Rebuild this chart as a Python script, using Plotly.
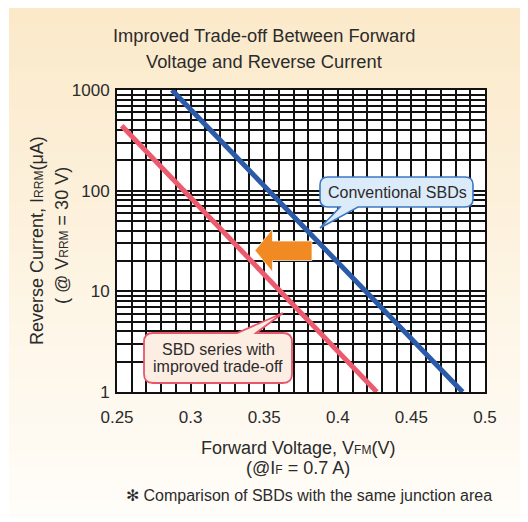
import plotly.graph_objects as go

# ---------------- data ----------------
conventional_vf = [0.2873, 0.4848]   # V
conventional_ir = [1000, 1]          # uA
improved_vf = [0.2532, 0.4265]       # V
improved_ir = [442, 1]               # uA

x_tick_labels = ["0.25", "0.3", "0.35", "0.4", "0.45", "0.5"]
y_tick_labels = ["1", "10", "100", "1000"]

# ---------------- layout geometry (screen pixels) ----------------
OFF = 8                      # page body margin
W, H = 528 - OFF, 522 - OFF  # figure size
L, R, T, B = 117, 485, 90, 392  # plot area on screen
PW, PH = R - L, B - T
FONT = "Liberation Sans, Arial, Helvetica, sans-serif"
TXT = "#2b2b2b"


def px(x):
    return (x - L) / PW


def py(y):
    return (B - y) / PH


# grid positions
x_grid = [round(0.25 + 0.01 * i, 2) for i in range(26)]
x_text = []
for v in x_grid:
    lab = ""
    for s in x_tick_labels:
        if abs(v - float(s)) < 1e-9:
            lab = s
    x_text.append(lab)

y_grid, y_text = [], []
for d, lab in zip([1, 10, 100], y_tick_labels[:3]):
    for m in range(1, 10):
        y_grid.append(d * m)
        y_text.append(lab if m == 1 else "")
y_grid.append(1000)
y_text.append(y_tick_labels[3])

fig = go.Figure()
fig.add_trace(go.Scatter(x=conventional_vf, y=conventional_ir, mode="lines",
                         line=dict(color="#2a5aa8", width=5), showlegend=False,
                         hoverinfo="skip"))
fig.add_trace(go.Scatter(x=improved_vf, y=improved_ir, mode="lines",
                         line=dict(color="#ec5a6e", width=5), showlegend=False,
                         hoverinfo="skip"))

shapes = []
# gradient panel background
top_c = (251, 233, 201)
bot_c = (255, 253, 249)
N = 60
y_start, y_end = 6, 518
for i in range(N):
    ya = y_start + (y_end - y_start) * i / N
    yb = y_start + (y_end - y_start) * (i + 1) / N + 0.6
    t = i / (N - 1)
    c = tuple(round(top_c[k] + (bot_c[k] - top_c[k]) * t) for k in range(3))
    shapes.append(dict(type="rect", xref="paper", yref="paper", layer="below",
                       x0=px(9), x1=px(521), y0=py(yb), y1=py(ya),
                       fillcolor="rgb(%d,%d,%d)" % c, line=dict(width=0)))
# right shadow
shapes.append(dict(type="rect", xref="paper", yref="paper", layer="below",
                   x0=px(521), x1=px(524), y0=py(521), y1=py(9),
                   fillcolor="#c4c4c4", line=dict(width=0)))
# white plot area
shapes.append(dict(type="rect", xref="paper", yref="paper", layer="below",
                   x0=0, x1=1, y0=0, y1=1, fillcolor="white", line=dict(width=0)))


def P(x, y):
    return "%.5f,%.5f" % (px(x), py(y))


def callout(x0, y0, x1, y1, r, side, b0, b1, tip):
    d = "M" + P(x0 + r, y0)
    if side == "top":
        d += " L" + P(b0, y0) + " L" + P(*tip) + " L" + P(b1, y0)
    d += " L" + P(x1 - r, y0) + " Q" + P(x1, y0) + " " + P(x1, y0 + r)
    d += " L" + P(x1, y1 - r) + " Q" + P(x1, y1) + " " + P(x1 - r, y1)
    if side == "bottom":
        d += " L" + P(b1, y1) + " L" + P(*tip) + " L" + P(b0, y1)
    d += " L" + P(x0 + r, y1) + " Q" + P(x0, y1) + " " + P(x0, y1 - r)
    d += " L" + P(x0, y0 + r) + " Q" + P(x0, y0) + " " + P(x0 + r, y0) + " Z"
    return d


shapes.append(dict(type="path", xref="paper", yref="paper", layer="above",
                   path=callout(320, 177, 473, 207, 8, "bottom", 340, 358, (320, 228)),
                   fillcolor="#dcebf9", line=dict(color="#3b78c4", width=1.6)))
shapes.append(dict(type="path", xref="paper", yref="paper", layer="above",
                   path=callout(144, 333, 292, 383, 9, "top", 237, 256, (283, 313)),
                   fillcolor="#fdeee4", line=dict(color="#e8566b", width=1.8)))

# orange arrow
arrow = ("M" + P(255, 250.5) + " L" + P(272.5, 229) + " L" + P(272.5, 241) +
         " L" + P(312, 241) + " L" + P(312, 260.5) + " L" + P(272.5, 260.5) +
         " L" + P(272.5, 272) + " Z")
shapes.append(dict(type="path", xref="paper", yref="paper", layer="above",
                   path=arrow, fillcolor="#f18a22",
                   line=dict(color="rgba(255,255,255,0.7)", width=1)))

annotations = []


def text(x, y, s, size, angle=0, xanchor="center"):
    annotations.append(dict(xref="paper", yref="paper", x=px(x), y=py(y), text=s,
                            showarrow=False, xanchor=xanchor, yanchor="middle",
                            textangle=angle, font=dict(family=FONT, size=size, color=TXT)))


text(264, 36, "Improved Trade-off Between Forward", 18.3)
text(264, 61, "Voltage and Reverse Current", 18.3)
text(298, 448, 'Forward Voltage, V<span style="font-size:12px">FM</span>(V)', 18)
text(298, 468, '(@I<span style="font-size:12px">F</span> = 0.7 A)', 18)
text(309, 495, "✻ Comparison of SBDs with the same junction area", 16)
text(37, 241, 'Reverse Current, I<span style="font-size:12px">RRM</span>(μA)', 18, angle=-90)
text(62, 236, '( @ V<span style="font-size:12px">RRM</span> = 30 V)', 18, angle=-90)
text(397, 192, "Conventional SBDs", 16)
text(218, 349, "SBD series with", 16)
text(218, 366, "improved trade-off", 16)

fig.update_layout(
    template="none",
    width=W, height=H,
    margin=dict(l=L - OFF, r=W + OFF - R, t=T - OFF, b=H + OFF - B, pad=0),
    paper_bgcolor="white", plot_bgcolor="white",
    showlegend=False,
    shapes=shapes, annotations=annotations,
    font=dict(family=FONT, size=17, color=TXT),
    xaxis=dict(type="linear", range=[0.25, 0.5], tickvals=x_grid, ticktext=x_text,
               showgrid=True, gridcolor="#111111", gridwidth=2, zeroline=False,
               showline=True, linecolor="#111111", linewidth=2, mirror=True,
               ticks="", ticklabelstandoff=9, automargin=False,
               tickfont=dict(family=FONT, size=17, color=TXT)),
    yaxis=dict(type="log", range=[0, 3], tickvals=y_grid, ticktext=y_text,
               showgrid=True, gridcolor="#111111", gridwidth=2, zeroline=False,
               showline=True, linecolor="#111111", linewidth=2, mirror=True,
               ticks="", ticklabelstandoff=2, automargin=False,
               tickfont=dict(family=FONT, size=17, color=TXT)),
)

fig.write_html("out.html")
